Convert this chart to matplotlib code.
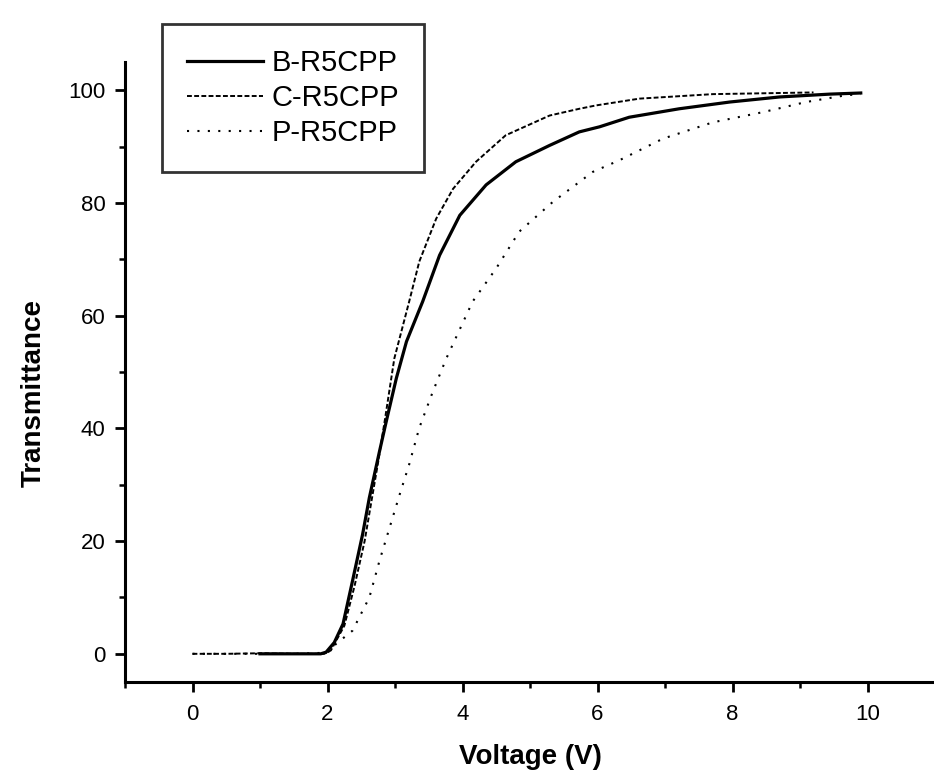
import numpy as np
import matplotlib
matplotlib.use('Agg')
import matplotlib.pyplot as plt
from matplotlib.ticker import MultipleLocator

plt.rcParams['font.family'] = ['Liberation Sans', 'DejaVu Sans']

# B-R5CPP (solid)
b_volt = [1.0, 1.5, 1.9, 1.98, 2.1, 2.23, 2.37, 2.52, 2.62, 2.77, 2.87, 3.02, 3.17,
          3.41, 3.66, 3.96, 4.35, 4.79, 5.29, 5.73, 6.03, 6.47, 7.21, 7.96, 8.7, 9.44, 9.9]
b_trans = [0.0, 0.0, 0.0, 0.3, 2.0, 5.3, 12.9, 21.2, 27.7, 35.9, 41.2, 48.9, 55.4,
           62.5, 70.7, 77.8, 83.2, 87.3, 90.2, 92.6, 93.5, 95.2, 96.7, 97.9, 98.8, 99.3, 99.5]

# C-R5CPP (dashed)
c_volt = [0.0, 0.5, 1.0, 1.5, 1.95, 2.05, 2.25, 2.4, 2.55, 2.65, 2.75, 2.85, 2.99,
          3.21, 3.36, 3.61, 3.86, 4.2, 4.64, 5.29, 5.73, 5.98, 6.62, 7.71, 8.7, 9.2]
c_trans = [0.0, 0.0, 0.1, 0.0, 0.0, 0.6, 5.0, 12.0, 20.0, 27.0, 34.0, 41.5, 52.4,
           62.5, 69.6, 77.2, 82.5, 87.3, 92.0, 95.5, 96.7, 97.3, 98.5, 99.3, 99.5, 99.6]

# P-R5CPP (dotted)
p_volt = [0.0, 0.5, 1.0, 1.5, 2.0, 2.13, 2.37, 2.62, 2.77, 2.92, 3.07, 3.21, 3.36,
          3.56, 3.76, 4.15, 4.5, 4.84, 5.34, 5.93, 6.33, 6.97, 7.71, 8.45, 9.09, 9.68, 9.9]
p_trans = [0.0, 0.0, 0.0, 0.0, 0.2, 1.8, 4.1, 10.0, 16.5, 22.4, 28.3, 33.6, 40.1,
           46.5, 52.4, 62.5, 68.4, 74.9, 80.2, 85.5, 87.6, 91.4, 94.3, 96.1, 97.9, 99.1, 99.3]

fig = plt.figure(figsize=(9.34, 7.73), dpi=100)
ax = fig.add_axes([125 / 934, 91 / 773, 810 / 934, 620 / 773])

ax.plot(b_volt, b_trans, color='black', lw=2.3, ls='-', label='B-R5CPP')
ax.plot(c_volt, c_trans, color='black', lw=1.4, ls=(0, (2.5, 1.2)), label='C-R5CPP')
ax.plot(p_volt, p_trans, color='black', lw=1.5, ls=(0, (1, 4)), label='P-R5CPP')

ax.set_xlim(-1, 11)
ax.set_ylim(-5, 105)
ax.xaxis.set_major_locator(MultipleLocator(2))
ax.xaxis.set_minor_locator(MultipleLocator(1))
ax.yaxis.set_major_locator(MultipleLocator(20))
ax.yaxis.set_minor_locator(MultipleLocator(10))

for s in ['top', 'right']:
    ax.spines[s].set_visible(False)
for s in ['left', 'bottom']:
    ax.spines[s].set_linewidth(2.2)

ax.tick_params(which='major', direction='out', length=7.5, width=2, labelsize=16)
ax.tick_params(which='minor', direction='out', length=4.5, width=1.8)
ax.tick_params(axis='x', which='major', pad=8)
ax.tick_params(axis='y', which='major', pad=6.5)

ax.set_xlabel('Voltage (V)', fontsize=20, fontweight='bold')
ax.set_ylabel('Transmittance', fontsize=20, fontweight='bold')
ax.xaxis.set_label_coords(0.5, -0.1)
ax.yaxis.set_label_coords(-0.097, 0.466)

leg = fig.legend(loc='upper left', bbox_to_anchor=(162 / 934, 1 - 24 / 773),
                 borderaxespad=0, fontsize=21, frameon=True, fancybox=False,
                 handlelength=2.6, handletextpad=0.3, labelspacing=0.25,
                 borderpad=0.85)
leg.get_frame().set_edgecolor('black')
leg.get_frame().set_linewidth(2)

fig.savefig('out.png', dpi=100)
